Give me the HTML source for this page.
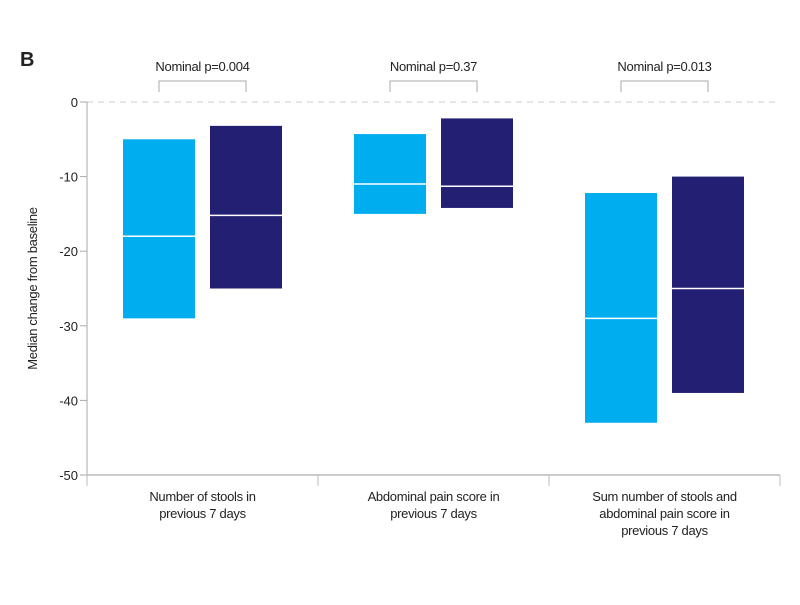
<!DOCTYPE html>
<html><head><meta charset="utf-8"><style>
body{margin:0;background:#fff}
svg text{font-family:"Liberation Sans",sans-serif;fill:#222}
</style></head><body>
<svg id="chart" width="800" height="600" viewBox="0 0 800 600">
<text x="20" y="66" font-size="20" font-weight="bold">B</text>
<g id="plot"></g>
</svg>
<script>
const categories=[["Number of stools in","previous 7 days"],["Abdominal pain score in","previous 7 days"],["Sum number of stools and","abdominal pain score in","previous 7 days"]];
const pLabels=["Nominal p=0.004","Nominal p=0.37","Nominal p=0.013"];
const lightTop=[-5,-4.3,-12.2];
const lightBottom=[-29,-15,-43];
const lightMedian=[-18,-11,-29];
const darkTop=[-3.2,-2.2,-10];
const darkBottom=[-25,-14.2,-39];
const darkMedian=[-15.2,-11.3,-25];
const yTicks=[0,-10,-20,-30,-40,-50];
const NS="http://www.w3.org/2000/svg";
const g=document.getElementById('plot');
const x0=87,x1=780,yTop=102,yBot=475;
const y=v=>yTop+(0-v)/50*(yBot-yTop);
const gw=(x1-x0)/3;
const gx=i=>x0+gw*i;
function mk(t,a){const e=document.createElementNS(NS,t);for(const k in a)e.setAttribute(k,a[k]);g.appendChild(e);return e;}
let e;
e=mk('line',{x1:x0,x2:x1,y1:y(0),y2:y(0),stroke:'#ccc','stroke-dasharray':'6,5'});


e=mk('line',{x1:x0,x2:x0,y1:yTop,y2:yBot,stroke:'#aaa'});


e=mk('line',{x1:x0,x2:x1,y1:yBot,y2:yBot,stroke:'#bbb','stroke-width':1.5});


yTicks.forEach(v=>{
 e=mk('line',{x1:x0-7,x2:x0,y1:y(v),y2:y(v),stroke:'#aaa'});
 
 
 e=mk('text',{x:x0-9,y:y(v)+5,'font-size':13,'text-anchor':'end'});e.textContent=v;
 
 
});
for(let i=0;i<=3;i++){e=mk('line',{x1:gx(i),x2:gx(i),y1:yBot,y2:yBot+11,stroke:'#bbb'});
 
 }
e=mk('text',{transform:`translate(37,${(yTop+yBot)/2}) rotate(-90)`,'font-size':13,'text-anchor':'middle','letter-spacing':'-0.3'});
e.textContent='Median change from baseline';


const bw=72;
categories.forEach((c,i)=>{
 const lx=gx(i)+36, dx=gx(i)+123;
 [[lx,lightTop,lightBottom,lightMedian,'#00aeef','box-placebo'],[dx,darkTop,darkBottom,darkMedian,'#231f73','box-treatment']].forEach(([bx,t,b,m,col,nm])=>{
  e=mk('rect',{x:bx,y:y(t[i]),width:bw,height:y(b[i])-y(t[i]),fill:col});
  
  
  e=mk('line',{x1:bx,x2:bx+bw,y1:y(m[i]),y2:y(m[i]),stroke:'#fff','stroke-width':1.5});
  
  
 });
 const bx1=lx+bw/2, bx2=dx+bw/2;
 e=mk('path',{d:`M${bx1} 92V81H${bx2}V92`,fill:'none',stroke:'#aaa'});
 
 
 e=mk('text',{x:(bx1+bx2)/2,y:71,'font-size':13,'text-anchor':'middle','letter-spacing':'-0.3'});e.textContent=pLabels[i];
 
 
 c.forEach((ln,j)=>{e=mk('text',{x:gx(i)+gw/2,y:501+j*17,'font-size':13,'text-anchor':'middle','letter-spacing':'-0.3'});e.textContent=ln;
  
  });
});
</script>
</body></html>
